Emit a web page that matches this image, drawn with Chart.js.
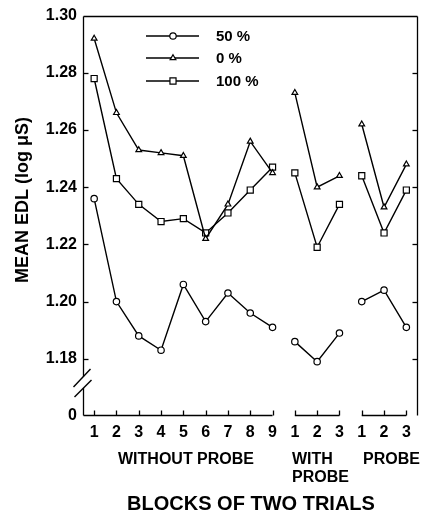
<!DOCTYPE html>
<html>
<head>
<meta charset="utf-8">
<script src="https://cdn.jsdelivr.net/npm/chart.js@4.4.1/dist/chart.umd.min.js"></script>
<style>
  html, body { margin: 0; padding: 0; background: #fff; }
  canvas { display: block; }
</style>
</head>
<body>
<canvas id="c" width="423" height="516"></canvas>
<script>
// ---- data ----
const xTickLabels = ['1','2','3','4','5','6','7','8','9','1','2','3','1','2','3'];
const groupSizes = [9, 3, 3];
const groupNames = [['WITHOUT PROBE'], ['WITH', 'PROBE'], ['PROBE']];
const seriesNames = ['50 %', '0 %', '100 %'];
const series50  = [1.236, 1.200, 1.188, 1.183, 1.206, 1.193, 1.203, 1.196, 1.191, 1.186, 1.179, 1.189, 1.200, 1.204, 1.191];
const series0   = [1.292, 1.266, 1.253, 1.252, 1.251, 1.222, 1.234, 1.256, 1.245, 1.273, 1.240, 1.244, 1.262, 1.233, 1.248];
const series100 = [1.278, 1.243, 1.234, 1.228, 1.229, 1.224, 1.231, 1.239, 1.247, 1.245, 1.219, 1.234, 1.244, 1.224, 1.239];
const yTickValues = [1.16, 1.18, 1.20, 1.22, 1.24, 1.26, 1.28, 1.30]; // 1.16 stands for the broken-axis "0"
const yAxisTitle = 'MEAN EDL (log \u03BCS)';
const xAxisTitle = 'BLOCKS OF TWO TRIALS';

// group end indices (no line drawn from these to the next point)
const groupEnds = [];
{ let acc = 0; groupSizes.forEach(s => { acc += s; groupEnds.push(acc - 1); }); }

const FONT = "'Liberation Sans', Arial, Helvetica, sans-serif";
Chart.defaults.color = '#000';
Chart.defaults.font.family = FONT;

function ds(label, data, style, radius) {
  return {
    label, data,
    borderColor: '#000', borderWidth: 1.4,
    pointStyle: style, pointRadius: radius, pointHoverRadius: radius,
    pointBackgroundColor: '#fff', pointBorderColor: '#000', pointBorderWidth: 1.2,
    tension: 0, fill: false,
    segment: { borderColor: ctx => groupEnds.includes(ctx.p0DataIndex) ? 'rgba(0,0,0,0)' : '#000' }
  };
}

const framePlugin = {
  id: 'frame',
  afterDatasetsDraw(chart) {
    const ctx = chart.ctx;
    const ca = chart.chartArea;
    const xs = chart.scales.x, ys = chart.scales.y;
    const L = Math.round(ca.left) + 0.5, R = Math.round(ca.right) - 0.5;
    const T = Math.round(ca.top) + 0.5, B = Math.round(ca.bottom) - 0.5;
    ctx.save();
    ctx.strokeStyle = '#000';
    ctx.lineWidth = 1.3;
    ctx.lineCap = 'butt';
    const line = (x1, y1, x2, y2) => { ctx.beginPath(); ctx.moveTo(x1, y1); ctx.lineTo(x2, y2); ctx.stroke(); };

    // axis break geometry
    const yb = (ys.getPixelForValue(1.17));
    const gapTop = yb - 11, gapBot = yb + 0.5;

    // frame: top, right, left (with break)
    line(L, T, R, T);
    line(R, T, R, B);
    line(L, T, L, gapTop);
    line(L, gapBot, L, B);

    // break marks
    ctx.lineWidth = 1.4;
    line(L - 10, yb - 0.5, L + 7, yb - 18.5);
    line(L - 9, yb + 9.5, L + 8, yb - 7.5);
    ctx.lineWidth = 1.3;

    // bottom axis segments per group
    let start = 0;
    groupSizes.forEach((s, gi) => {
      const x0 = gi === 0 ? L : xs.getPixelForValue(start);
      const x1 = xs.getPixelForValue(start + s - 1);
      line(x0, B, x1, B);
      start += s;
    });
    // bottom ticks (inward)
    for (let i = 0; i < xTickLabels.length; i++) {
      const px = Math.round(xs.getPixelForValue(i)) + 0.5;
      line(px, B, px, B - 5);
    }
    // left / right ticks (inward)
    yTickValues.forEach(v => {
      if (v <= 1.161 || v >= 1.299) return;
      const py = Math.round(ys.getPixelForValue(v)) + 0.5;
      line(L, py, L + 5, py);
      line(R, py, R - 5, py);
    });

    // legend
    const legendRows = [
      { name: seriesNames[0], style: 'circle', r: 3.2 },
      { name: seriesNames[1], style: 'triangle', r: 3.3 },
      { name: seriesNames[2], style: 'rect', r: 4.3 }
    ];
    const ly = [36, 58, 81];
    legendRows.forEach((row, i) => {
      ctx.lineWidth = 1.4;
      line(146, ly[i], 199, ly[i]);
      ctx.fillStyle = '#fff';
      ctx.lineWidth = 1.2;
      Chart.helpers.drawPoint(ctx, { pointStyle: row.style, radius: row.r, borderWidth: 1.2 }, 173, ly[i]);
      ctx.fillStyle = '#000';
      ctx.font = 'bold 15px ' + FONT;
      ctx.textAlign = 'left';
      ctx.textBaseline = 'middle';
      ctx.fillText(row.name, 216, ly[i] + 1);
    });

    // group labels
    ctx.fillStyle = '#000';
    ctx.font = 'bold 16px ' + FONT;
    ctx.textAlign = 'left';
    ctx.textBaseline = 'middle';
    const gx = [118, 292, 363];
    groupNames.forEach((lines, gi) => {
      lines.forEach((t, li) => ctx.fillText(t, gx[gi], 460 + li * 18));
    });

    // x title
    ctx.font = 'bold 20px ' + FONT;
    ctx.textAlign = 'center';
    ctx.fillText(xAxisTitle, 251, 504);

    // y title
    ctx.save();
    ctx.translate(23, 200);
    ctx.rotate(-Math.PI / 2);
    ctx.font = 'bold 18px ' + FONT;
    ctx.textAlign = 'center';
    ctx.textBaseline = 'middle';
    ctx.fillText(yAxisTitle, 0, 0);
    ctx.restore();

    ctx.restore();
  }
};

new Chart(document.getElementById('c'), {
  type: 'line',
  data: {
    labels: xTickLabels,
    datasets: [
      ds(seriesNames[0], series50, 'circle', 3.2),
      ds(seriesNames[1], series0, 'triangle', 3.3),
      ds(seriesNames[2], series100, 'rect', 4.3)
    ]
  },
  options: {
    responsive: false,
    animation: false,
    devicePixelRatio: 1,
    layout: { padding: { left: 0, top: 14, right: 1, bottom: 0 } },
    plugins: { legend: { display: false }, tooltip: { enabled: false }, title: { display: false } },
    scales: {
      x: {
        type: 'category',
        offset: true,
        grid: { display: false, drawTicks: false },
        border: { display: false },
        ticks: {
          autoSkip: false, maxRotation: 0, minRotation: 0, padding: 7,
          font: { size: 16, weight: 'bold' }, color: '#000'
        },
        afterFit: s => { s.height = 100; }
      },
      y: {
        type: 'linear',
        min: 1.16, max: 1.30,
        grid: { display: false, drawTicks: false },
        border: { display: false },
        afterBuildTicks: s => { s.ticks = yTickValues.map(v => ({ value: v })); },
        ticks: {
          padding: 6,
          font: { size: 16, weight: 'bold' }, color: '#000',
          callback: v => (Math.abs(v - 1.16) < 1e-6 ? '0' : Number(v).toFixed(2))
        },
        afterFit: s => { s.width = 83; }
      }
    }
  },
  plugins: [framePlugin]
});
</script>
</body>
</html>
